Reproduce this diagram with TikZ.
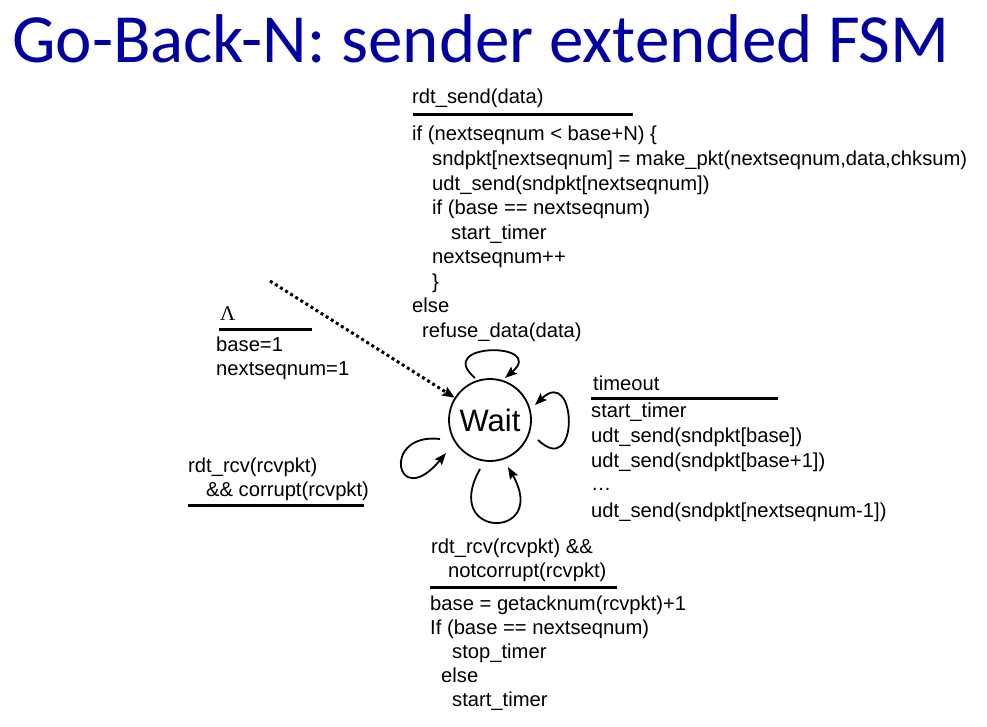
\documentclass[tikz,border=0pt]{standalone}
\usepackage{fontspec}
\setmainfont{Liberation Sans}
\newfontfamily\titlefont{Carlito}
\newfontfamily\greekfont{Liberation Serif}
\usetikzlibrary{arrows.meta}
\definecolor{titleblue}{RGB}{0,0,160}
\begin{document}
\begin{tikzpicture}[x=1pt,y=-1pt,
  codeline/.style={anchor=base west,inner sep=0pt,font=\fontsize{20.2}{24}\selectfont},
  guardrule/.style={line width=3pt},
  state/.style={circle,draw,line width=1.8pt,minimum size=82pt,inner sep=0pt,font=\fontsize{31}{36}\selectfont},
  selfloop/.style={line width=1.8pt,-{Stealth[length=12pt,width=9pt,inset=2pt]}},
  initarrow/.style={line width=3pt,dash pattern=on 3pt off 3pt,-{Stealth[length=12pt,width=10pt,inset=2pt]}}]
\useasboundingbox (0,0) rectangle (987,727);
\fill[white] (0,0) rectangle (987,727);

% title
\node[anchor=base west,inner sep=0pt,text=titleblue,font=\titlefont\fontsize{69}{80}\selectfont] (title) at (12,63) {Go-Back-N: sender extended FSM};

% the single state
\node[state] (wait) at (490,420) {Wait};

% initial transition
\coordinate (init) at (270,281);
\draw[initarrow] (init) -- (wait);
\node[anchor=base west,inner sep=0pt,font=\greekfont\fontsize{21}{24}\selectfont] (lam) at (220,320) {Λ};
\draw[guardrule] (219,329) -- (312,329);
\node[codeline] (i1) at (216,351) {base=1};
\node[codeline] (i2) at (216,375) {nextseqnum=1};

% rdt_send self-loop
\coordinate (ta) at (475,378);
\coordinate (tb) at (505,378);
\draw[selfloop] (ta) .. controls +(-42,-36) and +(42,-36) .. (tb);
\node[codeline] (s0) at (412,104) {rdt\_send(data)};
\draw[guardrule] (413,115) -- (633,115);
\node[codeline] (s1) at (412,141) {if (nextseqnum < base+N) \{};
\node[codeline] (s2) at (432,166) {sndpkt[nextseqnum] = make\_pkt(nextseqnum,data,chksum)};
\node[codeline] (s3) at (432,191) {udt\_send(sndpkt[nextseqnum])};
\node[codeline] (s4) at (432,215) {if (base == nextseqnum)};
\node[codeline] (s5) at (451,240) {start\_timer};
\node[codeline] (s6) at (432,264) {nextseqnum++};
\node[codeline] (s7) at (432,288) {\}};
\node[codeline] (s8) at (412,312) {else};
\node[codeline] (s9) at (422,337) {refuse\_data(data)};

% timeout self-loop
\coordinate (ra) at (538,440);
\coordinate (rb) at (535,405);
\draw[selfloop] (ra) .. controls +(42,40) and +(42,-40) .. (rb);
\node[codeline] (t0) at (593,390) {timeout};
\draw[guardrule] (591,398) -- (778,398);
\node[codeline] (t1) at (591,417) {start\_timer};
\node[codeline] (t2) at (591,442) {udt\_send(sndpkt[base])};
\node[codeline] (t3) at (591,467) {udt\_send(sndpkt[base+1])};
\node[codeline] (t4) at (591,490) {…};
\node[codeline] (t5) at (591,517) {udt\_send(sndpkt[nextseqnum-1])};

% corrupt ACK self-loop
\coordinate (la) at (440,439);
\coordinate (lb) at (446,453);
\draw[selfloop] (la) .. controls +(-60,-7) and +(-50,60) .. (lb);
\node[codeline] (c0) at (188,472) {rdt\_rcv(rcvpkt)};
\node[codeline] (c1) at (206,496) {\&\& corrupt(rcvpkt)};
\draw[guardrule] (188,505) -- (364,505);

% valid ACK self-loop
\coordinate (ba) at (480,469);
\coordinate (bb) at (508,467);
\draw[selfloop] (ba) .. controls +(-40,71) and +(42,73) .. (bb);
\node[codeline] (a0) at (431,553) {rdt\_rcv(rcvpkt) \&\&};
\node[codeline] (a1) at (448,577) {notcorrupt(rcvpkt)};
\draw[guardrule] (430,587) -- (617,587);
\node[codeline] (a2) at (430,610) {base = getacknum(rcvpkt)+1};
\node[codeline] (a3) at (430,634) {If (base == nextseqnum)};
\node[codeline] (a4) at (452,658) {stop\_timer};
\node[codeline] (a5) at (441,682) {else};
\node[codeline] (a6) at (452,706) {start\_timer};
\end{tikzpicture}
\end{document}
